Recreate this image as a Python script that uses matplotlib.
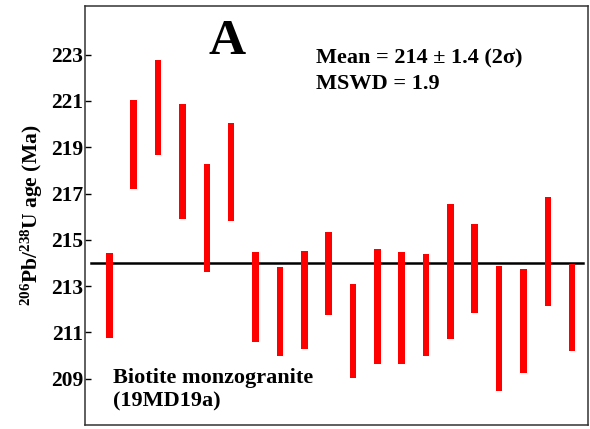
import matplotlib
matplotlib.use("Agg")
import matplotlib.pyplot as plt

plt.rcParams['font.family'] = ['Liberation Serif', 'DejaVu Serif']
plt.rcParams['font.weight'] = 'bold'
plt.rcParams['mathtext.fontset'] = 'custom'
plt.rcParams['mathtext.rm'] = 'Liberation Serif:bold'
plt.rcParams['mathtext.it'] = 'Liberation Serif:bold'
plt.rcParams['mathtext.bf'] = 'Liberation Serif:bold'

# spot number and 2-sigma age range (Ma)
spots = list(range(1, 21))
age_high = [214.45, 221.06, 222.77, 220.86, 218.27, 220.04, 214.49, 213.82, 214.51, 215.33,
            213.10, 214.61, 214.48, 214.38, 216.56, 215.67, 213.87, 213.73, 216.84, 213.95]
age_low = [210.76, 217.18, 218.65, 215.91, 213.60, 215.83, 210.60, 210.00, 210.30, 211.75,
           209.05, 209.64, 209.64, 209.97, 210.73, 211.85, 208.46, 209.23, 212.16, 210.21]
mean_age = 214
y_ticks = [209, 211, 213, 215, 217, 219, 221, 223]

fig = plt.figure(figsize=(5.9, 4.29), dpi=100)
ax = fig.add_axes([85/590, 4/429, 503/590, 419/429])

# mean line behind the bars
ax.plot([0.26, 20.43], [mean_age, mean_age], color='black', linewidth=1.8, zorder=1)

heights = [h - l for h, l in zip(age_high, age_low)]
ax.bar(spots, heights, bottom=age_low, width=0.27, color='#ff0000', linewidth=0, zorder=2)

ax.set_xlim(0, 20.65)
ax.set_ylim(207.0, 225.1)
ax.set_xticks([])
ax.set_yticks(y_ticks)
ax.tick_params(axis='y', direction='in', length=4.5, width=1.0, labelsize=15.5, pad=1.5)
for lab in ax.get_yticklabels():
    lab.set_fontweight('bold')
for sp in ax.spines.values():
    sp.set_linewidth(1.1)
    sp.set_color('#333333')

ax.set_ylabel('$^{206}$Pb/$^{238}$U age (Ma)', fontsize=15.5, fontweight='bold', labelpad=4)

#texts
ax.text(0.282, 0.885, 'A', transform=ax.transAxes, fontsize=37, fontweight='bold', ha='center', va='baseline')
ax.text(0.459, 0.862, 'Mean = 214 ± 1.4 (2σ)', transform=ax.transAxes, fontsize=16, fontweight='bold')
ax.text(0.459, 0.803, 'MSWD = 1.9', transform=ax.transAxes, fontsize=16, fontweight='bold')
ax.text(0.055, 0.100, 'Biotite monzogranite', transform=ax.transAxes, fontsize=16, fontweight='bold')
ax.text(0.055, 0.044, '(19MD19a)', transform=ax.transAxes, fontsize=16, fontweight='bold')

fig.savefig('out.png', dpi=100)
